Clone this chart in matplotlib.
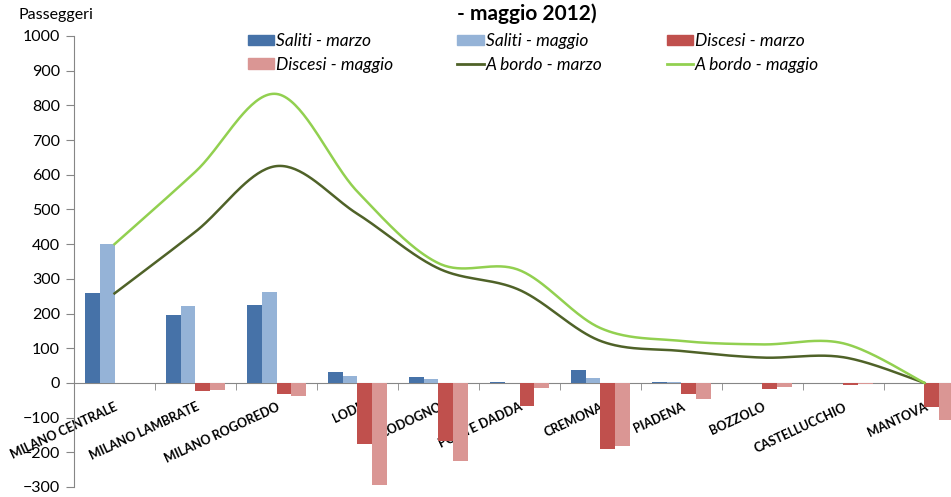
import numpy as np
import matplotlib
matplotlib.use("Agg")
import matplotlib.pyplot as plt
from matplotlib.patches import Patch
from matplotlib.lines import Line2D

plt.rcParams['font.family'] = ['Lato', 'DejaVu Sans']

# Stations along the line
stations = ["MILANO CENTRALE", "MILANO LAMBRATE", "MILANO ROGOREDO", "LODI", "CODOGNO",
            "PONTE DADDA", "CREMONA", "PIADENA", "BOZZOLO", "CASTELLUCCHIO", "MANTOVA"]

# Passengers boarding / alighting (alighting as negatives)
saliti_marzo = [258, 196, 225, 32, 16, 3, 37, 3, 1, 1, 0]
saliti_maggio = [400, 222, 262, 20, 12, 1, 13, 2, 1, 1, 0]
discesi_marzo = [0, -23, -33, -176, -166, -66, -190, -31, -18, -5, -68]
discesi_maggio = [0, -20, -38, -295, -224, -16, -183, -47, -12, -4, -106]

# Passengers on board after each station
bordo_marzo = [258, 436, 625, 487, 330, 268, 121, 92, 73, 74, 0]
bordo_maggio = [400, 609, 833, 551, 345, 325, 158, 121, 111, 114, 0]

C_SAL_MAR = "#4672A8"
C_SAL_MAG = "#95B3D7"
C_DIS_MAR = "#C0504D"
C_DIS_MAG = "#DA9694"
C_BOR_MAR = "#4F6228"
C_BOR_MAG = "#92D050"


def smooth_curve(x, y, steps=40):
    # bezier segments with catmull-rom style control points (like a spreadsheet "smoothed line")
    x = np.asarray(x, float)
    y = np.asarray(y, float)
    px = np.concatenate([[x[0]], x, [x[-1]]])
    py = np.concatenate([[y[0]], y, [y[-1]]])
    out_x, out_y = [], []
    t = np.linspace(0, 1, steps)
    for i in range(1, len(px) - 2):
        p0 = np.array([px[i], py[i]])
        p3 = np.array([px[i + 1], py[i + 1]])
        b1 = p0 + (np.array([px[i + 1], py[i + 1]]) - np.array([px[i - 1], py[i - 1]])) / 6
        b2 = p3 - (np.array([px[i + 2], py[i + 2]]) - np.array([px[i], py[i]])) / 6
        pts = ((1 - t)[:, None] ** 3 * p0 + 3 * ((1 - t) ** 2 * t)[:, None] * b1
               + 3 * ((1 - t) * t ** 2)[:, None] * b2 + (t ** 3)[:, None] * p3)
        out_x.extend(pts[:, 0])
        out_y.extend(pts[:, 1])
    return np.array(out_x), np.array(out_y)


fig = plt.figure(figsize=(9.51, 4.97), dpi=100)
ax = fig.add_axes([74 / 951, 10 / 497, 891 / 951, 451 / 497])

x = np.arange(len(stations))
w = 0.183
ax.bar(x - 1.5 * w, saliti_marzo, w, color=C_SAL_MAR, zorder=2)
ax.bar(x - 0.5 * w, saliti_maggio, w, color=C_SAL_MAG, zorder=2)
ax.bar(x + 0.5 * w, discesi_marzo, w, color=C_DIS_MAR, zorder=2)
ax.bar(x + 1.5 * w, discesi_maggio, w, color=C_DIS_MAG, zorder=2)

sx, sy = smooth_curve(x, bordo_marzo)
ax.plot(sx, sy, color=C_BOR_MAR, lw=1.8, zorder=3)
sx, sy = smooth_curve(x, bordo_maggio)
ax.plot(sx, sy, color=C_BOR_MAG, lw=1.8, zorder=3)

ax.set_xlim(-0.5, len(stations) - 0.5)
ax.set_ylim(-300, 1000)
ax.set_yticks(np.arange(-300, 1001, 100))

axis_grey = "#868686"
for s in ["top", "right"]:
    ax.spines[s].set_visible(False)
ax.spines["left"].set_color(axis_grey)
ax.spines["bottom"].set_color(axis_grey)
ax.spines["bottom"].set_position(("data", 0))
ax.spines["bottom"].set_zorder(1)

ax.set_xticks(x)
ax.set_xticklabels(stations, rotation=25, ha="right", va="top", rotation_mode="anchor",
                   fontsize=9, fontweight="bold")
ax.set_xticks(np.arange(-0.5, len(stations), 1.0), minor=True)
ax.tick_params(axis="x", which="major", length=0, pad=13)
ax.tick_params(axis="x", which="minor", length=5, color=axis_grey)
ax.tick_params(axis="y", length=6, color=axis_grey, labelsize=11.5, pad=4)

fig.text(18 / 951, 1 - 15 / 497, "Passeggeri", fontsize=11.5, va="center", ha="left")
fig.text(457 / 951, 1 - 14 / 497, "- maggio 2012)", fontsize=15, fontweight="bold",
         va="center", ha="left")

handles = [
    Patch(color=C_SAL_MAR, label="Saliti - marzo"),
    Patch(color=C_DIS_MAG, label="Discesi - maggio"),
    Patch(color=C_SAL_MAG, label="Saliti - maggio"),
    Line2D([], [], color=C_BOR_MAR, lw=2, label="A bordo - marzo"),
    Patch(color=C_DIS_MAR, label="Discesi - marzo"),
    Line2D([], [], color=C_BOR_MAG, lw=2, label="A bordo - maggio"),
]
fig.legend(handles=handles, ncol=3, loc="upper left", bbox_to_anchor=(248 / 951, 1 - 33 / 497),
           frameon=False, borderpad=0, borderaxespad=0, handlelength=1.5, handleheight=0.57,
           handletextpad=0.12, columnspacing=3.7, labelspacing=0.45,
           prop={"style": "italic", "size": 12.5})

fig.savefig("out.png", dpi=100)
